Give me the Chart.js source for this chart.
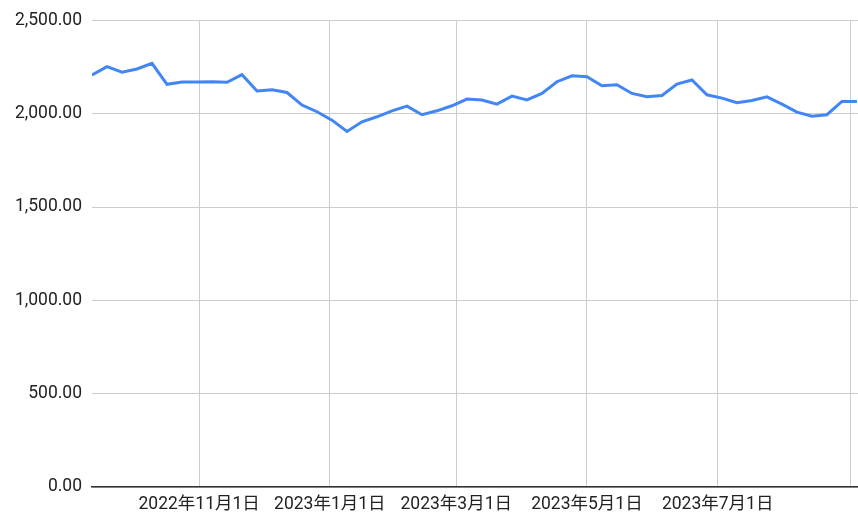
<!DOCTYPE html>
<html>
<head>
<meta charset="utf-8">
<script src="https://cdn.jsdelivr.net/npm/chart.js@4/dist/chart.umd.min.js"></script>
<style>
  html, body { margin: 0; padding: 0; background: #fff; }
  #wrap { width: 858px; height: 526px; }
</style>
</head>
<body>
<div id="wrap"><canvas id="lineChart"></canvas></div>
<script>
const dates = [
  '2022-09-12', '2022-09-19', '2022-09-26', '2022-10-03', '2022-10-10', '2022-10-17',
  '2022-10-24', '2022-10-31', '2022-11-07', '2022-11-14', '2022-11-21', '2022-11-28',
  '2022-12-05', '2022-12-12', '2022-12-19', '2022-12-26', '2023-01-02', '2023-01-09',
  '2023-01-16', '2023-01-23', '2023-01-30', '2023-02-06', '2023-02-13', '2023-02-20',
  '2023-02-27', '2023-03-06', '2023-03-13', '2023-03-20', '2023-03-27', '2023-04-03',
  '2023-04-10', '2023-04-17', '2023-04-24', '2023-05-01', '2023-05-08', '2023-05-15',
  '2023-05-22', '2023-05-29', '2023-06-05', '2023-06-12', '2023-06-19', '2023-06-26',
  '2023-07-03', '2023-07-10', '2023-07-17', '2023-07-24', '2023-07-31', '2023-08-07',
  '2023-08-14', '2023-08-21', '2023-08-28', '2023-09-04'
];

const values = [
  2208, 2253, 2223, 2240, 2270, 2158, 2170, 2170, 2172, 2169, 2210, 2122,
  2129, 2114, 2047, 2011, 1966, 1905, 1957, 1984, 2016, 2041, 1995, 2016,
  2043, 2079, 2074, 2052, 2095, 2074, 2109, 2172, 2204, 2199, 2150, 2156,
  2109, 2091, 2098, 2159, 2181, 2102, 2084, 2059, 2071, 2091, 2052, 2009,
  1987, 1995, 2066, 2066
];

const tickDates = ['2022-11-01', '2023-01-01', '2023-03-01', '2023-05-01', '2023-07-01', '2023-09-01'];
const tickLabels = ['2022年11月1日', '2023年1月1日', '2023年3月1日', '2023年5月1日', '2023年7月1日', ''];

const yTicks = [0, 500, 1000, 1500, 2000, 2500];

const ts = d => new Date(d + 'T00:00:00Z').getTime();
const DAY = 86400000;

const fontFamily = 'Roboto, "Noto Sans CJK JP", Arial, sans-serif';

const ctx = document.getElementById('lineChart').getContext('2d');
new Chart(ctx, {
  type: 'line',
  data: {
    datasets: [{
      data: dates.map((d, i) => ({ x: ts(d), y: values[i] })),
      borderColor: '#4285F4',
      borderWidth: 3,
      pointRadius: 0,
      tension: 0,
      fill: false
    }]
  },
  options: {
    responsive: true,
    maintainAspectRatio: false,
    animation: false,
    layout: { padding: { top: 12, right: 0, bottom: 0, left: 0 } },
    plugins: {
      legend: { display: false },
      tooltip: { enabled: false }
    },
    scales: {
      x: {
        type: 'linear',
        min: ts(dates[0]),
        max: ts(dates[dates.length - 1]) + 0.5 * DAY,
        afterBuildTicks: scale => {
          scale.ticks = tickDates.map(d => ({ value: ts(d) }));
        },
        afterFit: scale => { scale.height = 39; },
        ticks: {
          autoSkip: false,
          maxRotation: 0,
          padding: 7,
          color: '#222',
          font: { family: fontFamily, size: 17.5 },
          callback: (value, index) => tickLabels[index]
        },
        grid: { color: '#cccccc', lineWidth: 1, drawTicks: false },
        border: { display: true, color: '#333333', width: 1.5 }
      },
      y: {
        min: 0,
        max: 2500,
        afterBuildTicks: scale => {
          scale.ticks = yTicks.map(v => ({ value: v }));
        },
        afterFit: scale => { scale.width = 92; },
        ticks: {
          padding: 10,
          color: '#222',
          font: { family: fontFamily, size: 17.5 },
          callback: v => v.toLocaleString('en-US', { minimumFractionDigits: 2, maximumFractionDigits: 2 })
        },
        grid: { color: '#cccccc', lineWidth: 1, drawTicks: false },
        border: { display: false }
      }
    }
  }
});
</script>
</body>
</html>
